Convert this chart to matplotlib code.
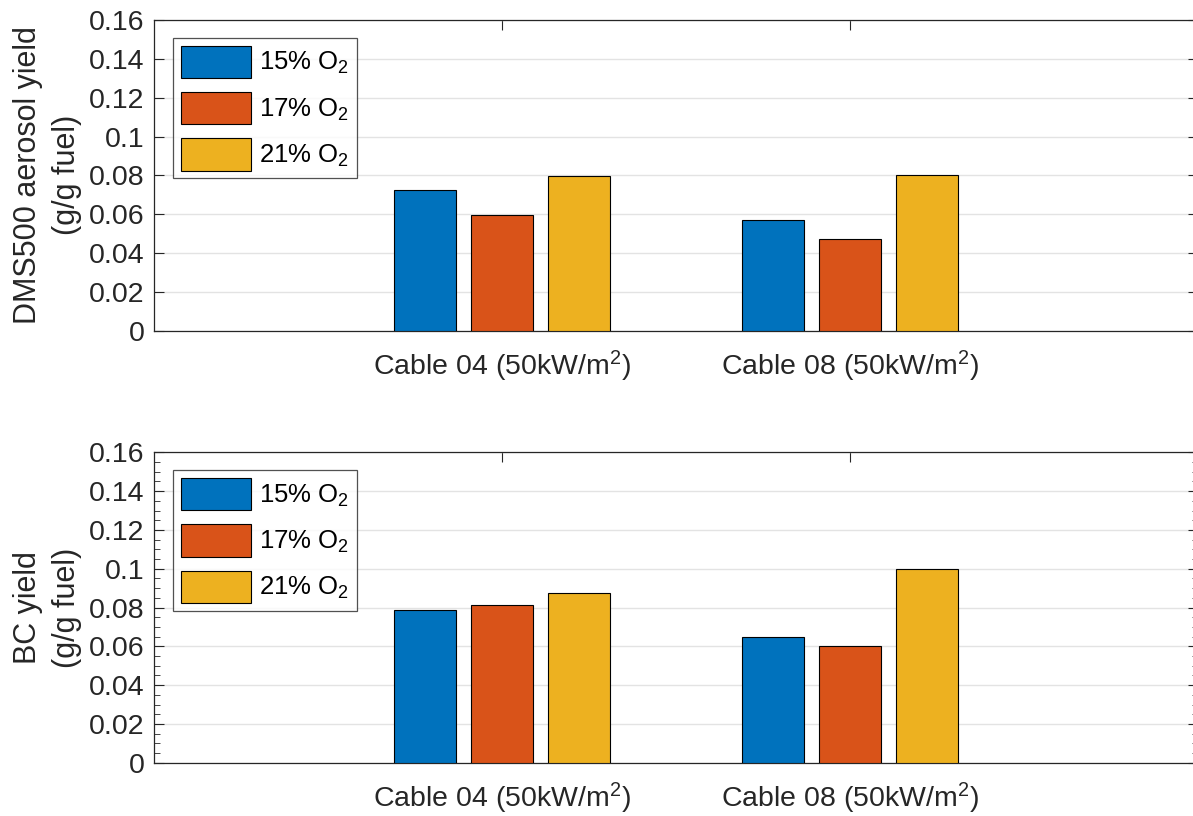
import numpy as np
import matplotlib
matplotlib.use("Agg")
import matplotlib.pyplot as plt
from matplotlib.ticker import MultipleLocator

plt.rcParams['font.family'] = ['Liberation Sans', 'DejaVu Sans']
plt.rcParams['mathtext.default'] = 'regular'

categories = ['Cable 04 (50kW/m$^2$)', 'Cable 08 (50kW/m$^2$)']
series_labels = ['15% O$_2$', '17% O$_2$', '21% O$_2$']
dms500 = [[0.0726, 0.0569],
          [0.0594, 0.0472],
          [0.0799, 0.0804]]
bc = [[0.0787, 0.0649],
      [0.0814, 0.0604],
      [0.0873, 0.1000]]
ylabels = ['DMS500 aerosol yield\n(g/g fuel)', 'BC yield\n(g/g fuel)']
yticks = [0, 0.02, 0.04, 0.06, 0.08, 0.1, 0.12, 0.14, 0.16]
ytick_labels = ['0', '0.02', '0.04', '0.06', '0.08', '0.1', '0.12', '0.14', '0.16']

colors = ['#0072BD', '#D95319', '#EDB120']
axcol = '#262626'

W, H = 1193, 816
fig = plt.figure(figsize=(W / 100, H / 100), dpi=100)

left_px, right_px = 154, 1198
axes_px = [(20, 330.7), (452.3, 762.7)]
x = np.arange(len(categories)) + 1
offs = [-0.2225, 0.0, 0.2225]
bw = 0.178

for i, (data, ylab) in enumerate(zip([dms500, bc], ylabels)):
    top, bot = axes_px[i]
    ax = fig.add_axes([left_px / W, 1 - bot / H, (right_px - left_px) / W, (bot - top) / H])
    for k in range(3):
        ax.bar(x + offs[k], data[k], width=bw, color=colors[k], edgecolor='black',
               linewidth=0.8, label=series_labels[k], zorder=3)
    ax.set_xlim(0, 3)
    ax.set_ylim(0, 0.16)
    ax.set_xticks(x)
    ax.set_xticklabels(categories, fontsize=20.5, color=axcol)
    ax.set_yticks(yticks)
    ax.set_yticklabels(ytick_labels, fontsize=20.5, color=axcol)
    ax.grid(axis='y', color='#e3e3e3', linewidth=1.0, zorder=0)
    ax.set_axisbelow(True)
    for s in ax.spines.values():
        s.set_color(axcol)
        s.set_linewidth(0.9)
    ax.tick_params(axis='both', which='major', direction='in', length=7.5, width=0.8,
                   color=axcol, top=True, right=True)
    ax.tick_params(axis='y', which='major', pad=7)
    ax.tick_params(axis='x', which='major', pad=13)
    if i == 1:
        ax.yaxis.set_minor_locator(MultipleLocator(0.005))
        ax.tick_params(axis='y', which='minor', direction='in', length=4, width=0.6,
                       color=axcol, left=True, right=True)
    ax.set_ylabel(ylab, fontsize=22, color=axcol, labelpad=5, linespacing=1.4)
    leg = ax.legend(loc='upper left', bbox_to_anchor=(19 / (right_px - left_px), 1 - 18 / (bot - top)),
                    borderaxespad=0, fontsize=18.5, frameon=True, fancybox=False,
                    handlelength=2.75, handleheight=1.55, handletextpad=0.3,
                    labelspacing=0.55, borderpad=0.3)
    leg.get_frame().set_edgecolor(axcol)
    leg.get_frame().set_linewidth(0.9)

fig.savefig('out.png', dpi=100)
